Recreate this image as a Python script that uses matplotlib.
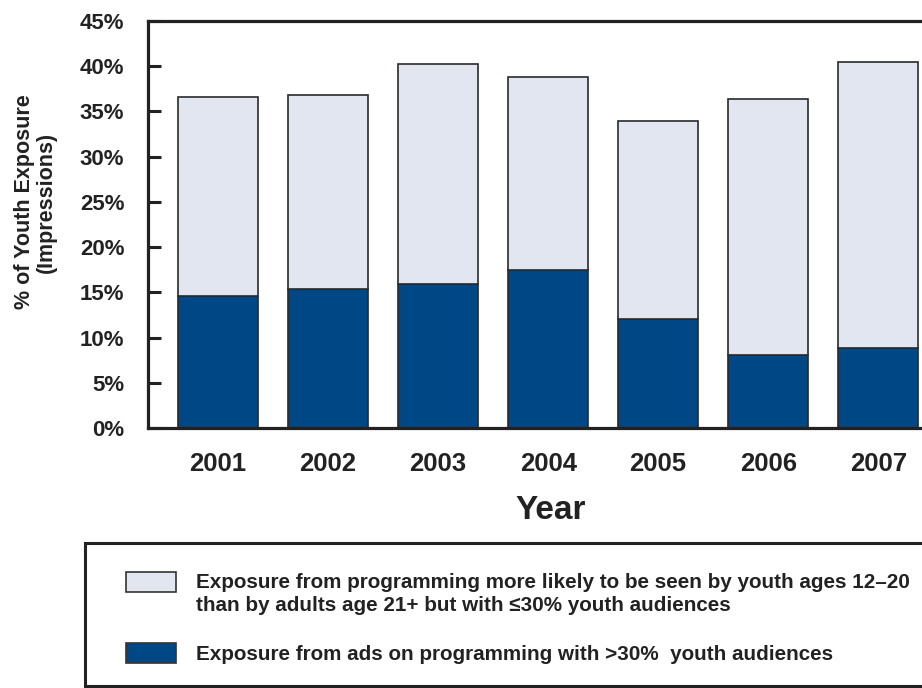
import matplotlib
matplotlib.use("Agg")
import matplotlib.pyplot as plt
from matplotlib.patches import Rectangle
from matplotlib.transforms import ScaledTranslation

years = ["2001", "2002", "2003", "2004", "2005", "2006", "2007"]
total_pct = [36.6, 36.8, 40.2, 38.8, 33.9, 36.4, 40.5]
youth_pct = [14.6, 15.4, 15.9, 17.5, 12.0, 8.1, 8.8]
other_pct = [t - y for t, y in zip(total_pct, youth_pct)]
yticks = [0, 5, 10, 15, 20, 25, 30, 35, 40, 45]
ytick_labels = [f"{v}%" for v in yticks]
legend_labels = [
    "Exposure from programming more likely to be seen by youth ages 12\u201320\nthan by adults age 21+ but with \u226430% youth audiences",
    "Exposure from ads on programming with >30%  youth audiences",
]

DARK = "#004785"
LIGHT = "#e1e6f1"
EDGE = "#2a2a2a"

plt.rcParams['font.family'] = ['Liberation Sans', 'DejaVu Sans']

W, H = 922, 688
fig = plt.figure(figsize=(W / 100, H / 100), dpi=100)

ax_left, ax_right = 148, 930
ax_top, ax_bot = 21, 428
ax = fig.add_axes([ax_left / W, 1 - ax_bot / H, (ax_right - ax_left) / W, (ax_bot - ax_top) / H])

x = list(range(len(years)))
bw = 0.73
ax.bar(x, youth_pct, width=bw, color=DARK, edgecolor=EDGE, linewidth=1.2, zorder=2)
ax.bar(x, other_pct, bottom=youth_pct, width=bw, color=LIGHT, edgecolor=EDGE, linewidth=1.2, zorder=2)

ax.set_ylim(0, 45)
ax.set_xlim(-0.636, 6.47)
ax.set_yticks(yticks)
ax.set_yticklabels(ytick_labels, fontsize=16, fontweight='bold', color='#222')
offset = ScaledTranslation(0, 3 / 100, fig.dpi_scale_trans)
for lbl in ax.get_yticklabels():
    lbl.set_transform(lbl.get_transform() + offset)
ax.set_xticks(x)
ax.set_xticklabels(years, fontsize=18.5, fontweight='bold', color='#222')
ax.tick_params(axis='y', direction='in', length=9, width=2.2, pad=17, color='#222')
ax.tick_params(axis='x', length=0, pad=17)
for s in ['left', 'bottom', 'top']:
    ax.spines[s].set_linewidth(2.3)
    ax.spines[s].set_color('#222')
ax.spines['right'].set_visible(False)

ax.set_xlabel("Year", fontsize=24, fontweight='bold', color='#222')
ax.xaxis.set_label_coords(0.5155, -0.165)
ax.set_ylabel("% of Youth Exposure\n(Impressions)", fontsize=15.5, fontweight='bold', color='#222',
              linespacing=1.05)
ax.yaxis.set_label_coords(-0.116, 0.555)

# Legend box
def fx(px):
    return px / W

def fy(py):
    return 1 - py / H

box = Rectangle((fx(85), fy(686)), fx(W + 10) - fx(85), fy(543) - fy(686), transform=fig.transFigure,
                facecolor='white', edgecolor='#222', linewidth=2.2, clip_on=False)
fig.add_artist(box)
for (py0, py1, col, label, ty) in [
    (572, 592, LIGHT, legend_labels[0], 594),
    (643, 663, DARK, legend_labels[1], 655),
]:
    r = Rectangle((fx(126), fy(py1)), fx(176) - fx(126), fy(py0) - fy(py1), transform=fig.transFigure,
                  facecolor=col, edgecolor='#333', linewidth=1.2)
    fig.add_artist(r)
    fig.text(fx(196), fy(ty), label, fontsize=14.85, fontweight='bold', color='#222',
             va='center', ha='left', linespacing=1.32)

fig.savefig("out.png", dpi=100)
